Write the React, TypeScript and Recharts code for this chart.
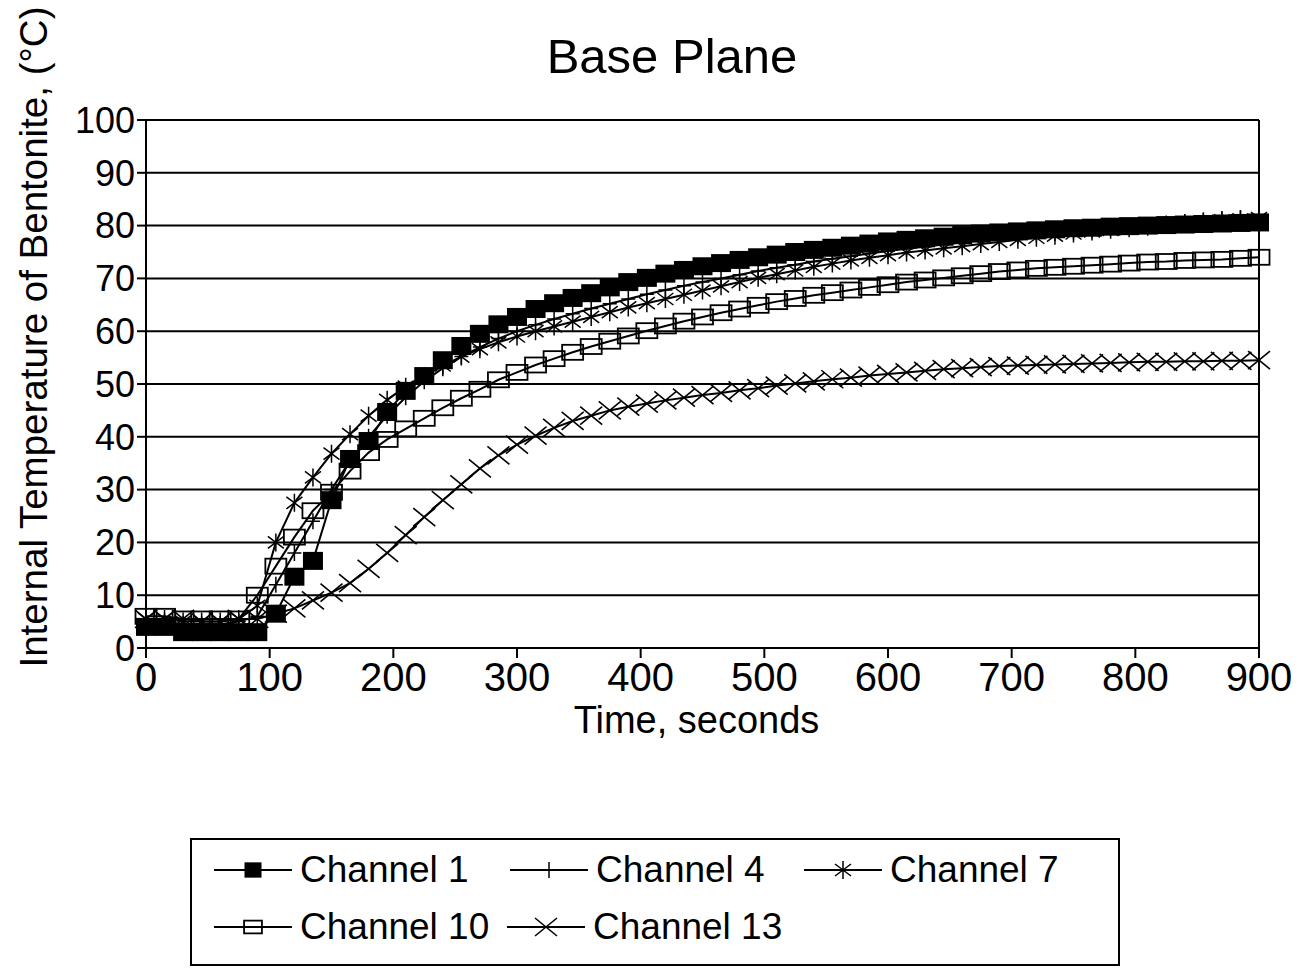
import React from 'react'
import { CartesianGrid, Legend, Line, LineChart, ReferenceLine, XAxis, YAxis } from 'recharts'

const FONT = '"Liberation Sans", Arial, Helvetica, sans-serif'

// sample times (s), one reading every 15 seconds
const times = [
  0, 15, 30, 45, 60, 75, 90, 105, 120, 135, 150, 165, 180, 195, 210, 225, 240, 255, 270, 285,
  300, 315, 330, 345, 360, 375, 390, 405, 420, 435, 450, 465, 480, 495, 510, 525, 540, 555, 570, 585,
  600, 615, 630, 645, 660, 675, 690, 705, 720, 735, 750, 765, 780, 795, 810, 825, 840, 855, 870, 885,
  900,
]

const channel1 = [
  4, 4, 3, 3, 3, 3, 3, 6.5, 13.5, 16.5, 28, 35.8, 39.2, 44.7, 48.7, 51.5, 54.5, 57.2, 59.5, 61.3,
  62.7, 64.2, 65.3, 66.3, 67.2, 68.3, 69.3, 70.1, 70.9, 71.6, 72.3, 72.9, 73.5, 74, 74.5, 75, 75.4, 75.8, 76.2, 76.6,
  77, 77.3, 77.6, 77.9, 78.2, 78.5, 78.7, 78.9, 79.1, 79.3, 79.5, 79.6, 79.8, 79.9, 80, 80.1, 80.2, 80.3, 80.4, 80.5,
  80.6,
]

const channel4 = [
  5, 5, 4.5, 4.5, 4.5, 5, 6, 12, 18, 24, 30, 35.5, 40, 44, 47.5, 50.5, 53, 55.2, 57, 58.6,
  60, 61.2, 62.3, 63.3, 64.3, 65.2, 66.1, 67, 67.8, 68.6, 69.3, 70, 70.7, 71.4, 72, 72.6, 73.2, 73.7, 74.2, 74.7,
  75.2, 75.6, 76, 76.4, 76.8, 77.2, 77.6, 78, 78.3, 78.6, 78.9, 79.2, 79.5, 79.8, 80.1, 80.4, 80.7, 81, 81.2, 81.4,
  81.6,
]

const channel7 = [
  5.5, 5.5, 5, 5, 5, 5.5, 8, 20, 27.5, 32.3, 36.8, 40.5, 44, 47, 49.5, 51.5, 53.5, 55.2, 56.6, 57.9,
  59, 60, 60.9, 61.8, 62.7, 63.6, 64.5, 65.3, 66.1, 66.9, 67.7, 68.5, 69.3, 70.1, 70.8, 71.5, 72.2, 72.8, 73.4, 73.9,
  74.4, 74.9, 75.3, 75.7, 76.1, 76.5, 76.9, 77.3, 77.7, 78.1, 78.5, 78.9, 79.2, 79.5, 79.8, 80.1, 80.4, 80.7, 81, 81.2,
  81.4,
]

const channel10 = [
  6, 6, 5.5, 5.5, 5.5, 5.5, 10, 15.5, 21, 26, 29.5, 33.5, 37, 39.5, 41.5, 43.5, 45.5, 47.3, 49, 50.8,
  52.2, 53.6, 54.8, 56, 57.1, 58.1, 59.1, 60.1, 61, 61.9, 62.7, 63.5, 64.2, 64.9, 65.6, 66.2, 66.8, 67.3, 67.8, 68.3,
  68.8, 69.3, 69.7, 70.1, 70.5, 70.9, 71.3, 71.6, 71.9, 72.1, 72.3, 72.5, 72.7, 72.9, 73.1, 73.2, 73.4, 73.5, 73.6, 73.8,
  74,
]

const channel13 = [
  5.5, 5.5, 5.5, 5, 5, 5.5, 5.5, 6.5, 7.5, 9, 10.5, 12.3, 15, 18, 21.4, 24.8, 28, 31, 34, 36.5,
  38.5, 40.2, 41.7, 43, 44, 45, 45.7, 46.3, 46.9, 47.4, 47.9, 48.3, 48.8, 49.2, 49.7, 50.1, 50.5, 50.9, 51.2, 51.6,
  51.9, 52.2, 52.5, 52.8, 53, 53.2, 53.4, 53.5, 53.6, 53.7, 53.8, 53.9, 54, 54.1, 54.2, 54.2, 54.3, 54.3, 54.4, 54.4,
  54.5,
]

const xTicks = [0, 100, 200, 300, 400, 500, 600, 700, 800, 900]
const yTicks = [0, 10, 20, 30, 40, 50, 60, 70, 80, 90, 100]

type MarkerKind = 'square' | 'plus' | 'star' | 'box' | 'cross'

const series: { key: string; name: string; marker: MarkerKind }[] = [
  { key: 'ch1', name: 'Channel 1', marker: 'square' },
  { key: 'ch4', name: 'Channel 4', marker: 'plus' },
  { key: 'ch7', name: 'Channel 7', marker: 'star' },
  { key: 'ch10', name: 'Channel 10', marker: 'box' },
  { key: 'ch13', name: 'Channel 13', marker: 'cross' },
]

const chartData = times.map((t, i) => ({
  t,
  ch1: channel1[i],
  ch4: channel4[i],
  ch7: channel7[i],
  ch10: channel10[i],
  ch13: channel13[i],
}))

const Marker = ({ kind, cx, cy, small }: { kind: MarkerKind; cx: number; cy: number; small?: boolean }) => {
  if (cx == null || cy == null) return null
  const k = small ? 0.85 : 1
  switch (kind) {
    case 'square':
      return <rect x={cx - 10 * k} y={cy - 9 * k} width={20 * k} height={18 * k} fill="#000" />
    case 'plus':
      return <path d={`M${cx - 7},${cy}H${cx + 7}M${cx},${cy - 8}V${cy + 8}`} stroke="#000" strokeWidth={1.5} fill="none" />
    case 'star':
      return (
        <path
          d={`M${cx},${cy - 9}V${cy + 9}M${cx - 8},${cy - 6}L${cx + 8},${cy + 6}M${cx - 8},${cy + 6}L${cx + 8},${cy - 6}`}
          stroke="#000"
          strokeWidth={1.5}
          fill="none"
        />
      )
    case 'box':
      return (
        <rect x={cx - 10.5 * k} y={cy - 7.5 * k} width={21 * k} height={15 * k} fill="none" stroke="#000" strokeWidth={1.8} />
      )
    case 'cross':
      return (
        <path
          d={`M${cx - 11},${cy - 9}L${cx + 11},${cy + 9}M${cx - 11},${cy + 9}L${cx + 11},${cy - 9}`}
          stroke="#000"
          strokeWidth={1.6}
          fill="none"
        />
      )
  }
  return null
}

// legend slots (relative to the legend box)
const legendSlots = [
  { left: 22, top: 30 },
  { left: 318, top: 30 },
  { left: 612, top: 30 },
  { left: 22, top: 87 },
  { left: 315, top: 87 },
]

const ChannelLegend = () => (
  <div style={{ position: 'relative', width: '100%', height: '100%' }}>
    {series.map((s, i) => (
      <div
        key={s.key}
        style={{
          position: 'absolute',
          left: legendSlots[i].left,
          top: legendSlots[i].top - 22,
          height: 44,
          display: 'flex',
          alignItems: 'center',
          whiteSpace: 'nowrap',
        }}
      >
        <svg width={78} height={24}>
          <line x1={0} y1={12} x2={78} y2={12} stroke="#000" strokeWidth={2} />
          <Marker kind={s.marker} cx={39} cy={12} small />
        </svg>
        <span style={{ marginLeft: 8, fontSize: 37, fontFamily: FONT, color: '#000' }}>{s.name}</span>
      </div>
    ))}
  </div>
)

export default function App() {
  return (
    <div
      style={{
        position: 'absolute',
        left: 0,
        top: 0,
        width: 1306,
        height: 968,
        background: '#fff',
        fontFamily: FONT,
      }}
    >
      <div
        style={{
          position: 'absolute',
          left: 372,
          top: 28,
          width: 600,
          textAlign: 'center',
          fontSize: 49,
          color: '#000',
        }}
      >
        Base Plane
      </div>
      <LineChart width={1306} height={968} data={chartData} margin={{ top: 120, right: 47, bottom: 230, left: 0 }}>
        <CartesianGrid vertical={false} stroke="#000" strokeWidth={2} />
        <XAxis
          type="number"
          dataKey="t"
          domain={[0, 900]}
          ticks={xTicks}
          interval={0}
          height={90}
          tickSize={10}
          tickMargin={5}
          tick={{ fontSize: 40, fill: '#000', fontFamily: FONT }}
          axisLine={{ stroke: '#000', strokeWidth: 2 }}
          tickLine={{ stroke: '#000', strokeWidth: 2 }}
          label={{ value: 'Time, seconds', position: 'insideBottom', offset: 5, dx: -6, fontSize: 38, fill: '#000', fontFamily: FONT }}
        />
        <YAxis
          type="number"
          domain={[0, 100]}
          ticks={yTicks}
          interval={0}
          width={146}
          tickSize={9}
          tickMargin={2}
          tick={{ fontSize: 36, fill: '#000', fontFamily: FONT }}
          axisLine={{ stroke: '#000', strokeWidth: 2 }}
          tickLine={{ stroke: '#000', strokeWidth: 2 }}
          label={{
            value: 'Internal Temperature of Bentonite, (°C)',
            angle: -90,
            position: 'center',
            dx: -40,
            dy: -47,
            fontSize: 38.5,
            fill: '#000',
            fontFamily: FONT,
          }}
        />
        <ReferenceLine x={900} stroke="#000" strokeWidth={2} />
        {series.map(s => (
          <Line
            key={s.key}
            type="linear"
            dataKey={s.key}
            name={s.name}
            stroke="#000"
            strokeWidth={2}
            isAnimationActive={false}
            dot={(p: any) => (
              <g key={`${s.key}-${p.index}`}>
                <Marker kind={s.marker} cx={p.cx} cy={p.cy} />
              </g>
            )}
            activeDot={false}
          />
        ))}
        <Legend
          layout="vertical"
          align="center"
          verticalAlign="middle"
          wrapperStyle={{
            position: 'absolute',
            left: 190,
            top: 838,
            width: 930,
            height: 128,
            border: '2px solid #000',
            boxSizing: 'border-box',
            background: '#fff',
          }}
          content={() => <ChannelLegend />}
        />
      </LineChart>
    </div>
  )
}
